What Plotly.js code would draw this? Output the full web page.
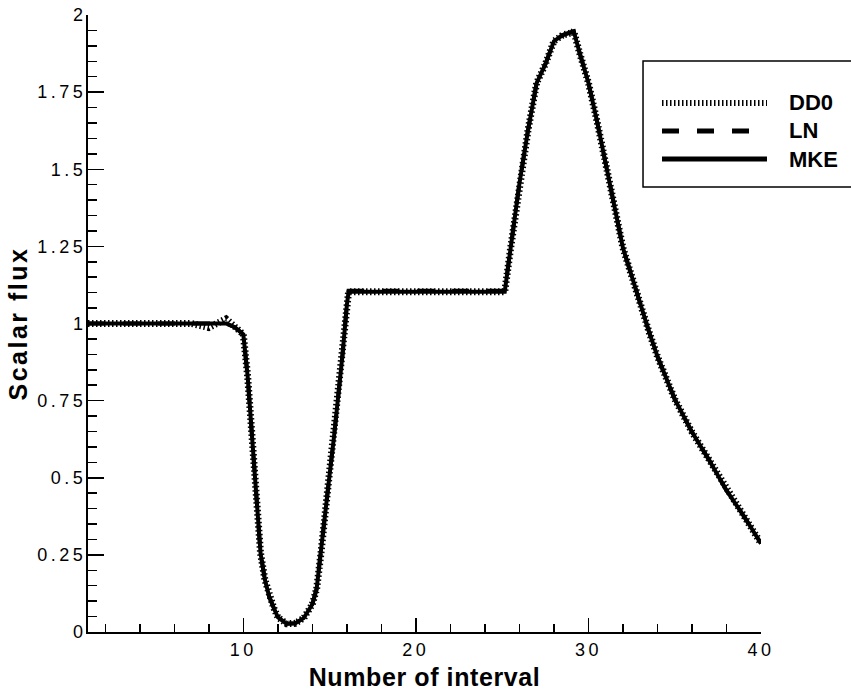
<!DOCTYPE html>
<html>
<head>
<meta charset="utf-8">
<script src="https://cdn.plot.ly/plotly-3.0.1.min.js"></script>
<style>
  html, body { margin: 0; padding: 0; background: #ffffff; }
  #chart { width: 851px; height: 691px; }
  .xtick text, .ytick text { letter-spacing: 3.5px; }
  .xtitle { letter-spacing: 0.6px; }
  .ytitle { letter-spacing: 2.5px; }
</style>
</head>
<body>
<div id="chart"></div>
<script>
// Interval positions (x)
const intervalPos = [1, 2, 3, 4, 5, 6, 7, 8, 8.5, 9, 9.5, 10, 10.25, 10.5, 10.75, 11, 11.25, 11.5, 11.75,
  12, 12.5, 13, 13.5, 14, 14.25, 14.5, 14.75, 15, 15.25, 15.5, 15.75, 16, 16.1, 17, 18, 19, 20, 21, 22, 23, 24, 25, 25.15,
  25.5, 26, 26.5, 27, 27.5, 28, 28.5, 29, 29.15, 29.5, 30, 30.5, 31, 31.5, 32, 32.5, 33, 33.5, 34, 35, 36, 37, 38, 39, 40];

// Scalar flux, DD0 scheme
const dd0Flux = [1.0, 1.0, 1.0, 1.0, 1.0, 1.0, 1.0, 0.987, 1.0, 1.015, 0.99, 0.965, 0.83, 0.645, 0.47, 0.255, 0.17, 0.115, 0.08,
  0.048, 0.027, 0.028, 0.045, 0.09, 0.14, 0.255, 0.39, 0.51, 0.63, 0.76, 0.9, 1.06, 1.103, 1.103, 1.103, 1.103, 1.103, 1.103, 1.103, 1.103, 1.103, 1.103, 1.103,
  1.248, 1.453, 1.627, 1.78, 1.84, 1.915, 1.935, 1.942, 1.947, 1.875, 1.78, 1.655, 1.515, 1.37, 1.245, 1.155, 1.06, 0.975, 0.893, 0.755, 0.648, 0.557, 0.459, 0.376, 0.287];

// Scalar flux, LN scheme
const lnFlux = [1.0, 1.0, 1.0, 1.0, 1.0, 1.0, 1.0, 1.0, 1.0, 1.0, 0.988, 0.965, 0.83, 0.645, 0.47, 0.255, 0.17, 0.115, 0.08,
  0.048, 0.027, 0.028, 0.045, 0.09, 0.14, 0.255, 0.39, 0.51, 0.63, 0.76, 0.9, 1.06, 1.106, 1.106, 1.106, 1.106, 1.106, 1.106, 1.106, 1.106, 1.106, 1.106, 1.106,
  1.248, 1.453, 1.627, 1.78, 1.84, 1.915, 1.935, 1.942, 1.947, 1.875, 1.78, 1.655, 1.515, 1.37, 1.245, 1.155, 1.06, 0.975, 0.893, 0.755, 0.648, 0.557, 0.459, 0.376, 0.287];

// Scalar flux, MKE scheme
const mkeFlux = [1.0, 1.0, 1.0, 1.0, 1.0, 1.0, 1.0, 1.0, 1.0, 1.0, 0.988, 0.965, 0.83, 0.645, 0.47, 0.255, 0.17, 0.115, 0.08,
  0.048, 0.027, 0.028, 0.045, 0.09, 0.14, 0.255, 0.39, 0.51, 0.63, 0.76, 0.9, 1.06, 1.103, 1.103, 1.103, 1.103, 1.103, 1.103, 1.103, 1.103, 1.103, 1.103, 1.103,
  1.248, 1.453, 1.627, 1.78, 1.84, 1.915, 1.935, 1.942, 1.947, 1.875, 1.78, 1.655, 1.515, 1.37, 1.245, 1.155, 1.06, 0.975, 0.893, 0.755, 0.648, 0.557, 0.459, 0.376, 0.287];

const seriesNames = ['DD0', 'LN', 'MKE'];

// Tick labels
const xTickVals = [10, 20, 30, 40];
const xTickText = ['10', '20', '30', '40'];
const yTickVals = [0, 0.25, 0.5, 0.75, 1, 1.25, 1.5, 1.75, 2];
const yTickText = ['0', '0.25', '0.5', '0.75', '1', '1.25', '1.5', '1.75', '2'];

const traces = [
  { x: intervalPos, y: dd0Flux, name: seriesNames[0], type: 'scatter', mode: 'lines',
    line: { color: '#000000', width: 7, dash: '1.5px,2.5px' } },
  { x: intervalPos, y: lnFlux, name: seriesNames[1], type: 'scatter', mode: 'lines',
    line: { color: '#000000', width: 4, dash: '17px,18px' } },
  { x: intervalPos, y: mkeFlux, name: seriesNames[2], type: 'scatter', mode: 'lines',
    line: { color: '#000000', width: 4 } }
];

// Legend (drawn as a framed key in paper coordinates)
const legY = [0.8574, 0.8120, 0.7666];
const legDash = ['1.5px,2.5px', '17px,18px', 'solid'];
const legWidth = [6, 5, 5];
const shapes = [
  { type: 'rect', xref: 'paper', yref: 'paper', x0: 0.8247, x1: 1.16, y0: 0.7212, y1: 0.9254,
    line: { color: '#000000', width: 1.5 }, fillcolor: 'rgba(255,255,255,1)' }
];
const annotations = [];
for (let i = 0; i < seriesNames.length; i++) {
  shapes.push({ type: 'line', xref: 'paper', yref: 'paper', x0: 0.8529, x1: 1.0089, y0: legY[i], y1: legY[i],
    line: { color: '#000000', width: legWidth[i], dash: legDash[i] } });
  annotations.push({ xref: 'paper', yref: 'paper', x: 1.0386, y: legY[i], xanchor: 'left', yanchor: 'middle',
    text: seriesNames[i], showarrow: false,
    font: { family: 'Liberation Sans, Arial, sans-serif', size: 22, color: '#000000', weight: 'bold' } });
}

const layout = {
  width: 851, height: 691,
  margin: { l: 88, r: 90, t: 15, b: 59, autoexpand: false },
  paper_bgcolor: '#ffffff', plot_bgcolor: '#ffffff',
  showlegend: false,
  font: { family: 'Liberation Sans, Arial, sans-serif', color: '#000000' },
  xaxis: {
    range: [1, 40], tickmode: 'array', tickvals: xTickVals, ticktext: xTickText,
    ticks: 'inside', ticklen: 14, tickwidth: 1.5, tickcolor: '#000000',
    showline: true, linewidth: 2, linecolor: '#000000', mirror: false,
    showgrid: false, zeroline: false,
    minor: { tickmode: 'linear', tick0: 0, dtick: 2, ticks: 'inside', ticklen: 8, tickwidth: 1.5, tickcolor: '#000000', showgrid: false },
    tickfont: { size: 18, color: '#000000' },
    title: { text: 'Number of interval', font: { size: 25, weight: 'bold', color: '#000000' } }
  },
  yaxis: {
    range: [0, 2], tickmode: 'array', tickvals: yTickVals, ticktext: yTickText,
    ticks: 'inside', ticklen: 16, tickwidth: 1.5, tickcolor: '#000000',
    showline: true, linewidth: 2, linecolor: '#000000', mirror: false,
    showgrid: false, zeroline: false, ticklabelstandoff: -4,
    minor: { tickmode: 'linear', tick0: 0, dtick: 0.05, ticks: 'inside', ticklen: 9, tickwidth: 1.5, tickcolor: '#000000', showgrid: false },
    tickfont: { size: 18, color: '#000000' },
    title: { text: 'Scalar flux', font: { size: 25, weight: 'bold', color: '#000000' } }
  },
  shapes: shapes,
  annotations: annotations
};

Plotly.newPlot('chart', traces, layout, { displayModeBar: false, staticPlot: true });
</script>
</body>
</html>
